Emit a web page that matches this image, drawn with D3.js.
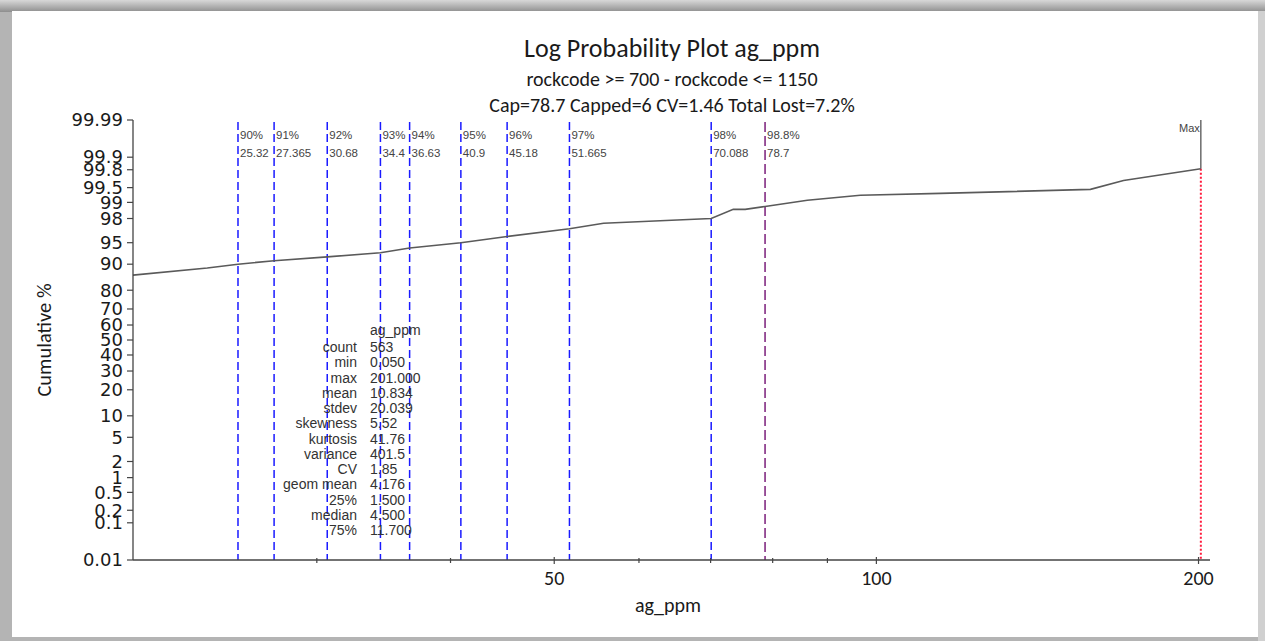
<!DOCTYPE html>
<html>
<head>
<meta charset="utf-8">
<script src="https://cdn.jsdelivr.net/npm/d3@7"></script>
<style>
  body { margin: 0; background: #ffffff; }
  svg { display: block; }
</style>
</head>
<body>
<svg id="chart" width="1265" height="641"></svg>
<script>
// Data
const titleLines = ["Log Probability Plot ag_ppm", "rockcode >= 700 - rockcode <= 1150", "Cap=78.7 Capped=6 CV=1.46 Total Lost=7.2%"];

// cumulative curve (ag_ppm vs cumulative %)
const curvePpm = [20.2, 23.7, 25.32, 27.365, 30.68, 34.4, 36.63, 40.9, 45.18, 51.665, 55.6, 70.088, 73.5, 75.4, 78.7, 86.2, 96.6, 114.8, 158.5, 170.2, 201];
const curvePct = [86.35, 88.8, 90, 91, 92, 93, 94, 95, 96, 97, 97.58, 98, 98.64, 98.64, 98.8, 99.09, 99.28, 99.34, 99.455, 99.65, 99.81];

// percentile markers
const pctLabels = ["90%", "91%", "92%", "93%", "94%", "95%", "96%", "97%", "98%", "98.8%"];
const pctValues = [25.32, 27.365, 30.68, 34.4, 36.63, 40.9, 45.18, 51.665, 70.088, 78.7];
const pctText = ["25.32", "27.365", "30.68", "34.4", "36.63", "40.9", "45.18", "51.665", "70.088", "78.7"];
const capLabel = "98.8%";

const maxValue = 201;
const maxPct = 99.81;

// statistics table
const statNames = ["count", "min", "max", "mean", "stdev", "skewness", "kurtosis", "variance", "CV", "geom mean", "25%", "median", "75%"];
const statValues = ["563", "0.050", "201.000", "10.834", "20.039", "5.52", "41.76", "401.5", "1.85", "4.176", "1.500", "4.500", "11.700"];

// axis ticks
const yTicks = [0.01, 0.1, 0.2, 0.5, 1, 2, 5, 10, 20, 30, 40, 50, 60, 70, 80, 90, 95, 98, 99, 99.5, 99.8, 99.9, 99.99];
const xMajorTicks = [50, 100, 200];
const xMinorTicks = [30, 40, 60, 70, 80, 90];

// inverse normal CDF (Acklam)
function probit(p) {
  const a = [-3.969683028665376e+01, 2.209460984245205e+02, -2.759285104469687e+02, 1.383577518672690e+02, -3.066479806614716e+01, 2.506628277459239e+00];
  const b = [-5.447609879822406e+01, 1.615858368580409e+02, -1.556989798598866e+02, 6.680131188771972e+01, -1.328068155288572e+01];
  const c = [-7.784894002430293e-03, -3.223964580411365e-01, -2.400758277161838e+00, -2.549732539343734e+00, 4.374664141464968e+00, 2.938163982698783e+00];
  const d = [7.784695709041462e-03, 3.224671290700398e-01, 2.445134137142996e+00, 3.754408661907416e+00];
  const pl = 0.02425;
  let q, r;
  if (p < pl) {
    q = Math.sqrt(-2 * Math.log(p));
    return (((((c[0]*q+c[1])*q+c[2])*q+c[3])*q+c[4])*q+c[5]) / ((((d[0]*q+d[1])*q+d[2])*q+d[3])*q+1);
  } else if (p <= 1 - pl) {
    q = p - 0.5; r = q * q;
    return (((((a[0]*r+a[1])*r+a[2])*r+a[3])*r+a[4])*r+a[5])*q / (((((b[0]*r+b[1])*r+b[2])*r+b[3])*r+b[4])*r+1);
  } else {
    q = Math.sqrt(-2 * Math.log(1 - p));
    return -(((((c[0]*q+c[1])*q+c[2])*q+c[3])*q+c[4])*q+c[5]) / ((((d[0]*q+d[1])*q+d[2])*q+d[3])*q+1);
  }
}

const svg = d3.select("#chart");
const W = 1265, H = 641;

// page frame with grey shadow
svg.append("rect").attr("width", W).attr("height", H).attr("fill", "#b4b4b4");
const defs = svg.append("defs");
const grad = defs.append("linearGradient").attr("id", "topShade").attr("x1", 0).attr("y1", 0).attr("x2", 0).attr("y2", 1);
grad.append("stop").attr("offset", "0%").attr("stop-color", "#d8d8d8");
grad.append("stop").attr("offset", "100%").attr("stop-color", "#8e8e8e");
svg.append("rect").attr("x", 0).attr("y", 0).attr("width", W).attr("height", 12).attr("fill", "url(#topShade)");
svg.append("rect").attr("x", 12).attr("y", 11).attr("width", 1246).attr("height", 626).attr("fill", "#ffffff");
svg.append("rect").attr("x", 1258).attr("y", 11).attr("width", 7).attr("height", 630).attr("fill", "#d0d0d0");

// plot area
const plot = { left: 133, right: 1210, top: 120, bottom: 560 };

const x = d3.scaleLog().domain([20.2, 205]).range([plot.left, plot.right]);
const zMax = probit(0.9999);
const yz = d3.scaleLinear().domain([-zMax, zMax]).range([plot.bottom, plot.top]);
const y = p => yz(probit(p / 100));

const textColor = "#1a1a1a";
const calibri = "Calibri, Carlito, Lato, 'Open Sans', sans-serif";
const verdana = "'DejaVu Sans', Verdana, sans-serif";
const arial = "Arial, 'Liberation Sans', sans-serif";

// titles
svg.append("text").attr("x", 672).attr("y", 57).attr("text-anchor", "middle")
  .style("font-family", calibri).style("font-size", "26px").attr("fill", textColor).text(titleLines[0]);
svg.append("text").attr("x", 672).attr("y", 86).attr("text-anchor", "middle")
  .style("font-family", calibri).style("font-size", "20px").attr("fill", textColor).text(titleLines[1]);
svg.append("text").attr("x", 672).attr("y", 112).attr("text-anchor", "middle")
  .style("font-family", calibri).style("font-size", "20px").attr("fill", textColor).text(titleLines[2]);

// percentile lines
const pctG = svg.append("g");
pctValues.forEach((v, i) => {
  const isCap = pctLabels[i] === capLabel;
  pctG.append("line")
    .attr("x1", x(v)).attr("x2", x(v))
    .attr("y1", plot.top + 2).attr("y2", plot.bottom)
    .attr("stroke", isCap ? "#7b1f7b" : "#1a1aff")
    .attr("stroke-width", 1.5)
    .attr("stroke-dasharray", isCap ? "10,4" : "8,4");
  pctG.append("text").attr("x", x(v) + 2).attr("y", 139)
    .style("font-family", arial).style("font-size", "11.5px").attr("fill", "#444")
    .text(pctLabels[i]);
  pctG.append("text").attr("x", x(v) + 2).attr("y", 157)
    .style("font-family", arial).style("font-size", "11.5px").attr("fill", "#444")
    .text(pctText[i]);
});

// max line and red cap line
svg.append("line").attr("x1", x(maxValue)).attr("x2", x(maxValue))
  .attr("y1", plot.top).attr("y2", y(maxPct))
  .attr("stroke", "#555").attr("stroke-width", 1.3);
svg.append("line").attr("x1", x(maxValue)).attr("x2", x(maxValue))
  .attr("y1", y(maxPct)).attr("y2", plot.bottom)
  .attr("stroke", "#ff1a3c").attr("stroke-width", 2).attr("stroke-dasharray", "2,2");
svg.append("text").attr("x", x(maxValue) - 1).attr("y", 132).attr("text-anchor", "end")
  .style("font-family", arial).style("font-size", "11px").attr("fill", "#444").text("Max");

// cumulative curve
const line = d3.line()
  .x((d, i) => x(curvePpm[i]))
  .y((d, i) => y(curvePct[i]));
svg.append("path").datum(curvePpm)
  .attr("d", line)
  .attr("fill", "none").attr("stroke", "#5a5a5a").attr("stroke-width", 1.6);

// stats table
const statsG = svg.append("g").style("font-family", arial).style("font-size", "14px").attr("fill", "#333");
statsG.append("text").attr("x", 370).attr("y", 335).text("ag_ppm");
statNames.forEach((n, i) => {
  const yy = 352 + i * 15.25;
  statsG.append("text").attr("x", 357).attr("y", yy).attr("text-anchor", "end").text(n);
  statsG.append("text").attr("x", 370).attr("y", yy).text(statValues[i]);
});

// y axis
const yAxisG = svg.append("g");
yAxisG.append("line").attr("x1", plot.left).attr("x2", plot.left)
  .attr("y1", plot.top).attr("y2", plot.bottom).attr("stroke", "#444").attr("stroke-width", 1.3);
yTicks.forEach(t => {
  yAxisG.append("line").attr("x1", plot.left - 6).attr("x2", plot.left)
    .attr("y1", y(t)).attr("y2", y(t)).attr("stroke", "#444").attr("stroke-width", 1.2);
  yAxisG.append("text").attr("x", plot.left - 10).attr("y", y(t)).attr("dy", "0.35em")
    .attr("text-anchor", "end").style("font-family", verdana).style("font-size", "18px")
    .attr("fill", textColor).text(t);
});
svg.append("text").attr("transform", `translate(51,${yz(0)}) rotate(-90)`)
  .attr("text-anchor", "middle").style("font-family", calibri).style("font-size", "20.5px")
  .attr("fill", textColor).text("Cumulative %");

// x axis
const xAxisG = svg.append("g");
xAxisG.append("line").attr("x1", plot.left).attr("x2", plot.right)
  .attr("y1", plot.bottom).attr("y2", plot.bottom).attr("stroke", "#444").attr("stroke-width", 1.6);
xMajorTicks.forEach(t => {
  xAxisG.append("line").attr("x1", x(t)).attr("x2", x(t))
    .attr("y1", plot.bottom - 3).attr("y2", plot.bottom + 4).attr("stroke", "#444").attr("stroke-width", 1.2);
  xAxisG.append("text").attr("x", x(t)).attr("y", plot.bottom + 25).attr("text-anchor", "middle")
    .style("font-family", calibri).style("font-size", "20px").attr("fill", textColor).text(t);
});
xMinorTicks.forEach(t => {
  xAxisG.append("line").attr("x1", x(t)).attr("x2", x(t))
    .attr("y1", plot.bottom - 2).attr("y2", plot.bottom + 3).attr("stroke", "#444").attr("stroke-width", 1.2);
});
svg.append("text").attr("x", 668).attr("y", 612).attr("text-anchor", "middle")
  .style("font-family", calibri).style("font-size", "20px").attr("fill", textColor).text("ag_ppm");
</script>
</body>
</html>
